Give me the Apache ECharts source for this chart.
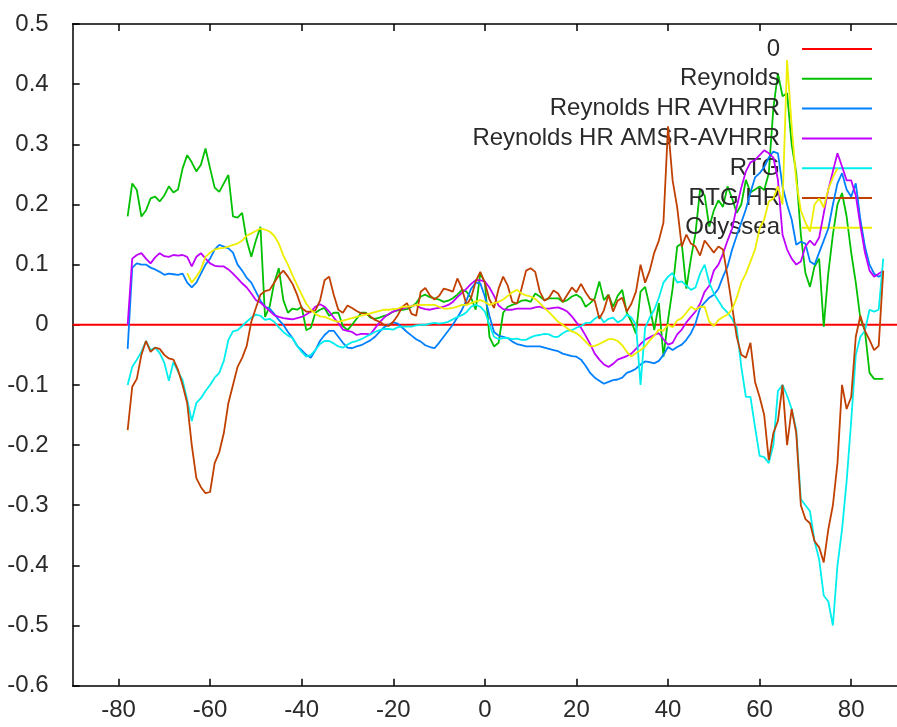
<!DOCTYPE html>
<html>
<head>
<meta charset="utf-8">
<script src="https://cdn.jsdelivr.net/npm/echarts@6/dist/echarts.min.js"></script>
<style>html,body{margin:0;padding:0;background:#fff;}#c{width:897px;height:727px;}</style>
</head>
<body>
<div id="c"></div>
<script>
// latitude grid shared by most series (degrees)
const lat = [];
for (let x = -78; x <= 87; x++) lat.push(x);

const xTicks = [-80, -60, -40, -20, 0, 20, 40, 60, 80];
const yTicks = [-0.6, -0.5, -0.4, -0.3, -0.2, -0.1, 0, 0.1, 0.2, 0.3, 0.4, 0.5];

const zeroX = [-90, 90];
const zeroY = [0, 0];

const reynolds = [
  0.18, 0.235, 0.224, 0.18, 0.19, 0.21, 0.213, 0.205, 0.215, 0.23,
  0.22, 0.225, 0.26, 0.282, 0.27, 0.255, 0.266, 0.293, 0.26, 0.228,
  0.221, 0.235, 0.249, 0.18, 0.178, 0.186, 0.14, 0.113, 0.14, 0.163,
  0.013, 0.03, 0.07, 0.094, 0.041, 0.02, 0.027, 0.025, 0.03, -0.009,
  -0.005, 0.02, 0.025, 0.028, 0.015, 0.02, 0.02, -0.002, -0.009, 0.0,
  0.01, 0.02, 0.02, 0.012, 0.01, 0.012, 0.015, 0.017, 0.022, 0.024,
  0.025, 0.026, 0.03, 0.036, 0.047, 0.05, 0.046, 0.044, 0.042, 0.038,
  0.04, 0.044, 0.05, 0.058, 0.055, 0.045, 0.025, 0.086, 0.07, -0.02,
  -0.036, -0.03, 0.02, 0.03, 0.033, 0.036, 0.04, 0.041, 0.038, 0.052,
  0.047, 0.041, 0.044, 0.044, 0.044, 0.038, 0.041, 0.047, 0.05, 0.045,
  0.03, 0.036, 0.044, 0.072, 0.041, 0.05, 0.03, 0.048, 0.058, 0.02,
  0.005, -0.015, 0.055, 0.063, 0.03, -0.009, 0.036, -0.053, 0.008, 0.06,
  0.13, 0.135, 0.06, 0.11, 0.152, 0.225, 0.215, 0.163, 0.19, 0.207,
  0.196, 0.23, 0.21, 0.186, 0.2, 0.241, 0.22, 0.225, 0.23, 0.224,
  0.252, 0.36, 0.418, 0.38, 0.385, 0.3, 0.252, 0.15, 0.086, 0.063,
  0.097, 0.11, -0.003, 0.086, 0.15, 0.2, 0.219, 0.18, 0.12, 0.07,
  0.01, -0.01, -0.08, -0.09, -0.09, -0.09
];

const reynoldsHrAvhrr = [
  -0.04, 0.095, 0.102, 0.1, 0.1, 0.095, 0.092, 0.088, 0.083, 0.085,
  0.084, 0.083, 0.085, 0.07, 0.062, 0.07, 0.085, 0.1, 0.11, 0.125,
  0.133, 0.13, 0.127, 0.12, 0.1, 0.09, 0.078, 0.07, 0.055, 0.04,
  0.03, 0.027, 0.018, 0.008, 0.0, -0.012, -0.022, -0.035, -0.042, -0.05,
  -0.055, -0.042, -0.027, -0.017, -0.01, -0.01, -0.02, -0.03, -0.038, -0.039,
  -0.036, -0.034, -0.03, -0.026, -0.02, -0.012, -0.004, 0.0, 0.004, 0.002,
  -0.005, -0.012, -0.018, -0.024, -0.028, -0.034, -0.037, -0.039, -0.03, -0.02,
  -0.01, 0.0, 0.012, 0.025, 0.041, 0.06, 0.07, 0.069, 0.047, 0.015,
  -0.012, -0.018, -0.02, -0.022, -0.028, -0.032, -0.034, -0.036, -0.036, -0.036,
  -0.036, -0.038, -0.04, -0.042, -0.044, -0.048, -0.05, -0.052, -0.053, -0.058,
  -0.068, -0.08, -0.088, -0.093, -0.098, -0.095, -0.092, -0.091, -0.088, -0.08,
  -0.077, -0.073, -0.066, -0.061, -0.062, -0.064, -0.06, -0.05, -0.037, -0.042,
  -0.037, -0.033, -0.025, -0.014, 0.002, 0.028, 0.037, 0.045, 0.05, 0.06,
  0.08, 0.097, 0.125, 0.148, 0.17, 0.192, 0.22, 0.245, 0.252, 0.262,
  0.278, 0.288, 0.285, 0.23, 0.2, 0.175, 0.133, 0.138, 0.135, 0.105,
  0.1, 0.12, 0.14, 0.16, 0.2, 0.235, 0.252, 0.225, 0.213, 0.235,
  0.175, 0.13, 0.1, 0.085, 0.08, 0.085
];

const reynoldsHrAmsrAvhrr = [
  0.0, 0.11, 0.116, 0.119, 0.11, 0.102, 0.112, 0.119, 0.114, 0.113,
  0.116, 0.115, 0.116, 0.113, 0.097, 0.113, 0.119, 0.11, 0.102, 0.098,
  0.097, 0.097, 0.092, 0.085, 0.077, 0.069, 0.062, 0.052, 0.041, 0.037,
  0.03, 0.023, 0.016, 0.013, 0.011, 0.01, 0.009, 0.011, 0.013, 0.017,
  0.022, 0.03, 0.034, 0.03, 0.022, 0.012, 0.003, -0.008, -0.01, -0.012,
  -0.017, -0.015, -0.015, -0.016, -0.006, 0.004, 0.012, 0.018, 0.022, 0.025,
  0.027, 0.029, 0.031, 0.033, 0.028, 0.026, 0.025, 0.027, 0.028, 0.03,
  0.033, 0.038, 0.046, 0.053, 0.06, 0.068, 0.074, 0.074, 0.072, 0.062,
  0.048, 0.032, 0.026, 0.025, 0.025, 0.027, 0.027, 0.027, 0.027, 0.029,
  0.03, 0.027, 0.027, 0.028, 0.029, 0.026, 0.022, 0.014, 0.004, -0.005,
  -0.018, -0.032, -0.048, -0.058, -0.066, -0.07, -0.065, -0.058, -0.055, -0.052,
  -0.048, -0.04, -0.032, -0.025, -0.021, -0.017, -0.014, -0.024, -0.033, -0.03,
  -0.016, -0.008, 0.004, 0.013, 0.022, 0.035, 0.055, 0.065, 0.09, 0.1,
  0.118, 0.14, 0.16, 0.196, 0.228, 0.255, 0.27, 0.274, 0.282, 0.29,
  0.285, 0.278, 0.241, 0.15, 0.125, 0.11, 0.1, 0.105, 0.13, 0.14,
  0.132, 0.145, 0.185, 0.225, 0.255, 0.285, 0.263, 0.24, 0.24, 0.215,
  0.165, 0.12, 0.09, 0.08, 0.085, 0.09
];

const rtg = [
  -0.1, -0.07, -0.058, -0.045, -0.027, -0.042, -0.038, -0.047, -0.063, -0.093,
  -0.062, -0.078, -0.092, -0.125, -0.16, -0.13, -0.122, -0.11, -0.1, -0.088,
  -0.08, -0.06, -0.025, -0.011, -0.009, -0.002, 0.005, 0.012, 0.017, 0.015,
  0.008, 0.01, 0.005, -0.004, -0.012, -0.018, -0.022, -0.035, -0.045, -0.053,
  -0.05, -0.042, -0.032, -0.027, -0.027, -0.031, -0.036, -0.038, -0.033, -0.029,
  -0.027, -0.024, -0.02, -0.016, -0.012, -0.009, -0.007, -0.007, -0.008, -0.004,
  -0.003, -0.003, -0.003, -0.001, 0.0, 0.0, 0.002, 0.003, 0.002, 0.003,
  0.005, 0.009, 0.013, 0.016, 0.021, 0.03, 0.033, 0.03, 0.022, 0.0,
  -0.02, -0.024, -0.022, -0.022, -0.024, -0.023, -0.025, -0.025, -0.021, -0.018,
  -0.017, -0.015, -0.016, -0.02, -0.02, -0.014, -0.01, -0.009, -0.005, -0.002,
  0.003, 0.003, 0.01, 0.015, 0.004, 0.01, 0.012, 0.004, 0.008, 0.017,
  0.012, 0.0, -0.1, -0.005, 0.012, 0.025, 0.045, 0.07, 0.08, 0.086,
  0.07, 0.072, 0.065, 0.058, 0.062, 0.085, 0.1, 0.07, 0.052, 0.04,
  0.028, 0.02, 0.01, -0.005, -0.07, -0.12, -0.12, -0.17, -0.218, -0.22,
  -0.23, -0.2, -0.11, -0.1, -0.118, -0.14, -0.175, -0.29, -0.3, -0.31,
  -0.36, -0.39, -0.45, -0.46, -0.5, -0.4, -0.34, -0.26, -0.16, -0.05,
  -0.02, -0.01, 0.025, 0.022, 0.025, 0.11
];

const rtgHr = [
  -0.175, -0.103, -0.09, -0.05, -0.027, -0.045, -0.038, -0.04, -0.05, -0.056,
  -0.058, -0.075, -0.1, -0.13, -0.2, -0.255, -0.27, -0.28, -0.278, -0.23,
  -0.212, -0.18, -0.13, -0.1, -0.07, -0.055, -0.035, 0.005, 0.028, 0.05,
  0.056, 0.058, 0.07, 0.082, 0.09, 0.08, 0.068, 0.05, 0.028, 0.022,
  0.022, 0.024, 0.04, 0.074, 0.08, 0.05, 0.025, 0.02, 0.032, 0.028,
  0.023, 0.019, 0.019, 0.014, 0.008, 0.005, 0.0, -0.002, 0.005, 0.016,
  0.03, 0.036, 0.018, 0.015, 0.055, 0.061, 0.049, 0.042, 0.048, 0.06,
  0.058, 0.055, 0.077, 0.06, 0.033, 0.045, 0.072, 0.088, 0.07, 0.042,
  0.028, 0.06, 0.08, 0.065, 0.038, 0.035, 0.06, 0.09, 0.094, 0.088,
  0.055, 0.04, 0.045, 0.057, 0.052, 0.038, 0.05, 0.062, 0.054, 0.068,
  0.054, 0.043, 0.04, 0.01, 0.024, 0.05, 0.022, 0.04, 0.045, 0.022,
  0.035, 0.055, 0.1, 0.07, 0.09, 0.12, 0.14, 0.17, 0.33, 0.24,
  0.195, 0.13, 0.15, 0.135, 0.13, 0.115, 0.14, 0.13, 0.12, 0.13,
  0.125, 0.08, 0.03, -0.02, -0.05, -0.055, -0.03, -0.095, -0.12, -0.15,
  -0.225, -0.18, -0.16, -0.1, -0.2, -0.14, -0.18, -0.3, -0.323, -0.33,
  -0.36, -0.37, -0.395, -0.34, -0.3, -0.23, -0.1, -0.14, -0.12, -0.02,
  0.015, -0.01, -0.025, -0.042, -0.035, 0.09
];

// Odyssea covers -65 .. 77 only
const odysseaStart = -65;
const odyssea = [
  0.086, 0.07, 0.08, 0.092, 0.113, 0.12, 0.125, 0.127, 0.128, 0.13,
  0.133, 0.135, 0.14, 0.148, 0.152, 0.156, 0.16, 0.158, 0.155, 0.148,
  0.135, 0.115, 0.1, 0.082, 0.066, 0.05, 0.035, 0.025, 0.018, 0.014,
  0.013, 0.01, 0.007, 0.005, 0.007, 0.009, 0.011, 0.013, 0.015, 0.017,
  0.019, 0.021, 0.023, 0.025, 0.025, 0.026, 0.027, 0.03, 0.03, 0.031,
  0.033, 0.033, 0.033, 0.033, 0.033, 0.03, 0.027, 0.027, 0.028, 0.03,
  0.033, 0.033, 0.036, 0.039, 0.041, 0.038, 0.033, 0.036, 0.038, 0.042,
  0.048, 0.054, 0.058, 0.052, 0.049, 0.047, 0.043, 0.036, 0.028, 0.021,
  0.013, 0.005, 0.0, -0.006, -0.011, -0.014, -0.02, -0.028, -0.036, -0.035,
  -0.032, -0.028, -0.024, -0.024, -0.027, -0.034, -0.045, -0.053, -0.047, -0.042,
  -0.036, -0.026, -0.018, -0.008, -0.01, 0.0, -0.004, 0.007, 0.011, 0.02,
  0.03, 0.025, 0.03, 0.03, 0.005, -0.002, 0.008, 0.013, 0.017, 0.026,
  0.045, 0.07, 0.085, 0.105, 0.125, 0.16, 0.175, 0.205, 0.21, 0.23,
  0.2, 0.44, 0.33, 0.238, 0.19, 0.17, 0.155, 0.2, 0.21, 0.195,
  0.225, 0.245, 0.26
];

const names = ['0', 'Reynolds', 'Reynolds HR AVHRR', 'Reynolds HR AMSR-AVHRR', 'RTG', 'RTG HR', 'Odyssea'];
const colors = ['#ff0000', '#00c000', '#0080ff', '#c000ff', '#00eeee', '#c04000', '#eeee00'];

const pairs = (xs, ys) => ys.map((v, i) => [xs[i], v]);
const odysseaX = odyssea.map((_, i) => odysseaStart + i);

const seriesData = [
  pairs(zeroX, zeroY),
  pairs(lat, reynolds),
  pairs(lat, reynoldsHrAvhrr),
  pairs(lat, reynoldsHrAmsrAvhrr),
  pairs(lat, rtg),
  pairs(lat, rtgHr),
  pairs(odysseaX, odyssea)
];

const FONT = 'Liberation Sans';
const chart = echarts.init(document.getElementById('c'), null, { renderer: 'canvas' });

const axisLineStyle = { color: '#000', width: 1.5 };

chart.setOption({
  animation: false,
  backgroundColor: '#fff',
  grid: { left: 72.7, top: 24, width: 836.7, height: 661.7, containLabel: false },
  legend: {
    orient: 'vertical',
    align: 'right',
    right: 20,
    top: 32,
    itemWidth: 70,
    itemHeight: 2,
    itemGap: 5.8,
    icon: 'rect',
    selectedMode: false,
    data: names,
    textStyle: { fontSize: 24, lineHeight: 24, color: '#2a2a2a', fontFamily: FONT, padding: [0, 17, 0, 0] }
  },
  xAxis: [
    {
      type: 'value', min: -90, max: 90, position: 'bottom',
      axisLine: { show: true, onZero: false, lineStyle: axisLineStyle },
      axisTick: { show: true, inside: true, length: 7, customValues: xTicks, lineStyle: axisLineStyle },
      axisLabel: { show: true, customValues: xTicks, margin: 13, fontSize: 24, color: '#2a2a2a', fontFamily: FONT },
      splitLine: { show: false }
    },
    {
      type: 'value', min: -90, max: 90, position: 'top',
      axisLine: { show: true, onZero: false, lineStyle: axisLineStyle },
      axisTick: { show: true, inside: true, length: 7, customValues: xTicks, lineStyle: axisLineStyle },
      axisLabel: { show: false },
      splitLine: { show: false }
    }
  ],
  yAxis: [
    {
      type: 'value', min: -0.6, max: 0.5, position: 'left',
      axisLine: { show: true, onZero: false, lineStyle: axisLineStyle },
      axisTick: { show: true, inside: true, length: 7, customValues: yTicks, lineStyle: axisLineStyle },
      axisLabel: {
        show: true, customValues: yTicks, margin: 24, fontSize: 24, color: '#2a2a2a', fontFamily: FONT,
        formatter: v => String(+(+v).toFixed(1))
      },
      splitLine: { show: false }
    }
  ],
  series: names.map((n, i) => ({
    name: n,
    type: 'line',
    xAxisIndex: 0,
    yAxisIndex: 0,
    data: seriesData[i],
    showSymbol: false,
    symbol: 'none',
    color: colors[i],
    lineStyle: { color: colors[i], width: 1.8 },
    z: 2 + i
  }))
});
</script>
</body>
</html>
